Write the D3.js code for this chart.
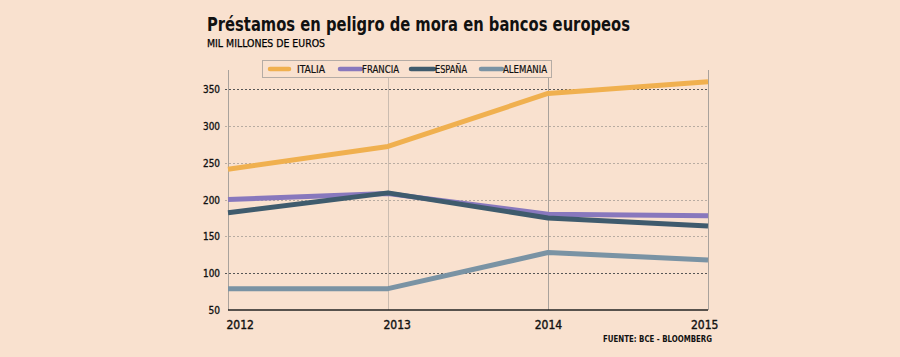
<!DOCTYPE html>
<html><head><meta charset="utf-8">
<script src="https://cdn.jsdelivr.net/npm/d3@7"></script>
<style>
html,body{margin:0;padding:0;background:#f9e1cf;}
svg{display:block;}
</style></head>
<body>
<svg id="c" width="900" height="357"></svg>
<script>
const years = [2012, 2013, 2014, 2015];
const seriesNames = ["ITALIA", "FRANCIA", "ESPAÑA", "ALEMANIA"];
const italia   = [241, 272, 344, 360];
const francia  = [200, 208, 180, 178];
const espana   = [182, 209, 175, 164];
const alemania = [79, 79, 128, 118];
const yTicks = [50, 100, 150, 200, 250, 300, 350];
const title = "Préstamos en peligro de mora en bancos europeos";
const subtitle = "MIL MILLONES DE EUROS";
const source = "FUENTE: BCE - BLOOMBERG";

const colors = ["#f0b04f", "#8878bd", "#3f5b6d", "#7a93a4"];
const seriesValues = [italia, francia, espana, alemania];

const svg = d3.select("#c");
svg.append("rect").attr("width", 900).attr("height", 357).attr("fill", "#f9e1cf");

const x = d3.scalePoint().domain(years).range([228, 708]);
const y = d3.scaleLinear().domain([50, 350]).range([310, 89]);

// title
svg.append("text").attr("x", 207).attr("y", 31)
  .attr("font-family", "DejaVu Sans, Verdana, sans-serif").attr("font-weight", "bold")
  .attr("font-size", 19.5).attr("fill", "#111")
  .attr("textLength", 423).attr("lengthAdjust", "spacingAndGlyphs")
  .text(title);
svg.append("text").attr("x", 207).attr("y", 47)
  .attr("font-family", "DejaVu Sans, Verdana, sans-serif")
  .attr("font-size", 10).attr("fill", "#000")
  .attr("stroke", "#000").attr("stroke-width", 0.25)
  .attr("textLength", 118).attr("lengthAdjust", "spacingAndGlyphs")
  .text(subtitle);

// horizontal gridlines
const grid = svg.append("g");
grid.selectAll("line.h").data(yTicks.filter(d => d > 50)).join("line")
  .attr("x1", 225).attr("x2", 708)
  .attr("y1", d => Math.round(y(d)) + 0.5).attr("y2", d => Math.round(y(d)) + 0.5)
  .attr("stroke", d => (d === 350 || d === 100) ? "#555" : "#b8aca2")
  .attr("stroke-width", 1)
  .attr("stroke-dasharray", "2,2");

// vertical lines
grid.selectAll("line.v").data(years).join("line")
  .attr("x1", d => Math.round(x(d)) + 0.5).attr("x2", d => Math.round(x(d)) + 0.5)
  .attr("y1", 70).attr("y2", 310)
  .attr("stroke", (d, i) => i === 1 ? "#cbbcb0" : "#a9a29c")
  .attr("stroke-width", 1);

// y axis labels
const yAxis = d3.axisLeft(y).tickValues(yTicks).tickSize(0).tickPadding(0);
const yg = svg.append("g").attr("transform", "translate(220,0)").call(yAxis);
yg.select(".domain").remove();
yg.selectAll("text").attr("font-family", "DejaVu Sans, Verdana, sans-serif")
  .attr("font-size", 10).attr("fill", "#111").attr("stroke", "#111").attr("stroke-width", 0.35)
  .attr("dy", "0.36em")
  .attr("textLength", 17).attr("lengthAdjust", "spacingAndGlyphs");
yg.selectAll("text").filter(d => d === 50).attr("textLength", 11.5);

// x axis
const xAxis = d3.axisBottom(x).tickSize(0).tickPadding(0);
const xg = svg.append("g").attr("transform", "translate(0,310)").call(xAxis);
xg.select(".domain").remove();
xg.selectAll("text").attr("font-family", "DejaVu Sans, Verdana, sans-serif")
  .attr("font-size", 11.5).attr("fill", "#111").attr("stroke", "#111").attr("stroke-width", 0.4)
  .attr("y", 19).attr("dy", 0)
  .attr("textLength", 27.5).attr("lengthAdjust", "spacingAndGlyphs")
  .attr("text-anchor", (d, i) => i === 0 || i === 1 ? "start" : (i === 3 ? "end" : "middle"))
  .attr("dx", (d, i) => [ -2, -5, 0, 10 ][i]);
svg.append("line").attr("x1", 228).attr("x2", 708).attr("y1", 310).attr("y2", 310)
  .attr("stroke", "#222").attr("stroke-width", 1.3);

// lines
const line = d3.line().x((d, i) => x(years[i])).y(d => y(d));
const order = [0, 1, 3, 2];
svg.append("g").selectAll("path").data(order).join("path")
  .attr("d", k => line(seriesValues[k]))
  .attr("fill", "none").attr("stroke", k => colors[k])
  .attr("stroke-width", 5).attr("stroke-linejoin", "round");

// legend
const lg = svg.append("g");
lg.append("rect").attr("x", 262.5).attr("y", 60.5).attr("width", 289).attr("height", 17)
  .attr("fill", "#f9e1cf").attr("stroke", "#b5aca5").attr("stroke-width", 1);
const legX = [270, 340, 411, 481];
const swW = [19, 21, 23, 21];
seriesNames.forEach((n, i) => {
  lg.append("line").attr("x1", legX[i]).attr("x2", legX[i] + swW[i])
    .attr("y1", 69).attr("y2", 69).attr("stroke", colors[i])
    .attr("stroke-width", 4.5).attr("stroke-linecap", "round");
  lg.append("text").attr("x", i === 0 ? 297 : legX[i] + swW[i] + 1).attr("y", 73)
    .attr("font-family", "DejaVu Sans Condensed, DejaVu Sans, sans-serif")
    .attr("font-size", 10.5).attr("fill", "#111")
    .attr("stroke", "#111").attr("stroke-width", 0.2)
    .attr("textLength", [28, 37, 32, 44][i]).attr("lengthAdjust", "spacingAndGlyphs")
    .text(n);
});

// source
svg.append("text").attr("x", 712).attr("y", 342).attr("text-anchor", "end")
  .attr("font-family", "DejaVu Sans Condensed, DejaVu Sans, sans-serif")
  .attr("font-weight", "bold").attr("font-size", 9).attr("fill", "#111")
  .attr("textLength", 109).attr("lengthAdjust", "spacingAndGlyphs")
  .text(source);
</script>
</body></html>
